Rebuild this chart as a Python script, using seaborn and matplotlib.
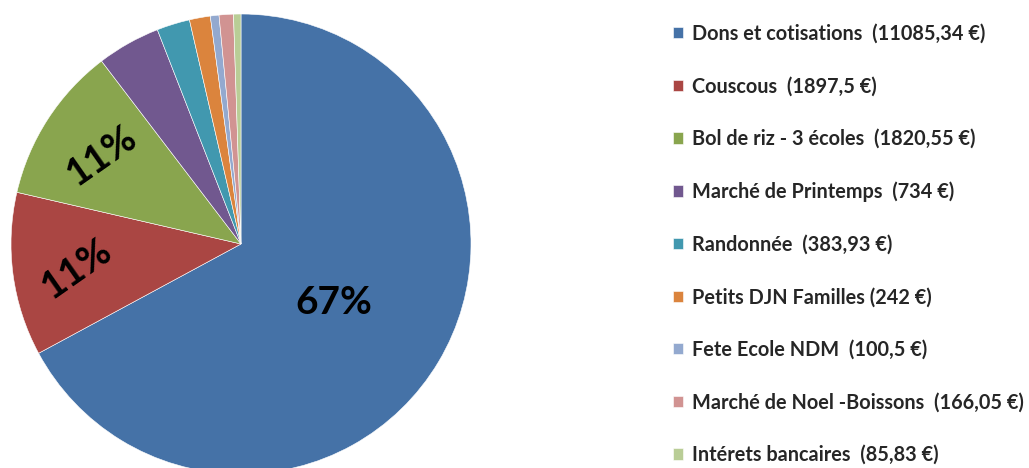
import numpy as np
import matplotlib
matplotlib.use("Agg")
import matplotlib.pyplot as plt
import seaborn as sns

# Data
labels = ['Dons et cotisations  (11085,34 €)', 'Couscous  (1897,5 €)',
          'Bol de riz - 3 écoles  (1820,55 €)', 'Marché de Printemps  (734 €)',
          'Randonnée  (383,93 €)', 'Petits DJN Familles (242 €)',
          'Fete Ecole NDM  (100,5 €)', 'Marché de Noel -Boissons  (166,05 €)',
          'Intérets bancaires  (85,83 €)']
values = [11085.34, 1897.5, 1820.55, 734, 383.93, 242, 100.5, 166.05, 85.83]
colors = ['#4572A7', '#AA4643', '#89A54E', '#71588F', '#4198AF',
          '#DB843D', '#93A9CF', '#D19392', '#B9CD96']

sns.set_style('white')
plt.rcParams['font.family'] = ['Lato', 'DejaVu Sans']
palette = sns.color_palette(colors)

fig = plt.figure(figsize=(10.29, 4.68), dpi=100)
# pie centre ~ (241, 244) px, radius ~ 230 px
ax = fig.add_axes([11 / 1029, -6 / 468, 460 / 1029, 460 / 468])

total = sum(values)
wedges, _ = ax.pie(values, colors=palette, startangle=90, counterclock=False,
                   radius=1, wedgeprops=dict(edgecolor='white', linewidth=0.4))
ax.set_xlim(-1, 1)
ax.set_ylim(-1, 1)
ax.axis('off')

# percentage labels only for the three big slices
for w, v in zip(wedges, values):
    frac = v / total
    if frac < 0.08:
        continue
    mid = np.deg2rad((w.theta1 + w.theta2) / 2)
    if frac > 0.5:
        r, rot = 0.47, 0
    else:
        r, rot = 0.73, 35
    ax.text(r * np.cos(mid), r * np.sin(mid), f'{frac * 100:.0f}%',
            ha='center', va='center_baseline', rotation=rot, rotation_mode='anchor',
            fontsize=28, fontweight='bold', color='black')

fig.legend(wedges, labels, loc='upper left', bbox_to_anchor=(655 / 1029, 1 - 6 / 468),
           frameon=False, labelspacing=1.64,
           handlelength=0.5, handleheight=0.5, handletextpad=0.45,
           prop=dict(weight='bold', size=14.3))

plt.savefig('out.png', dpi=100)
